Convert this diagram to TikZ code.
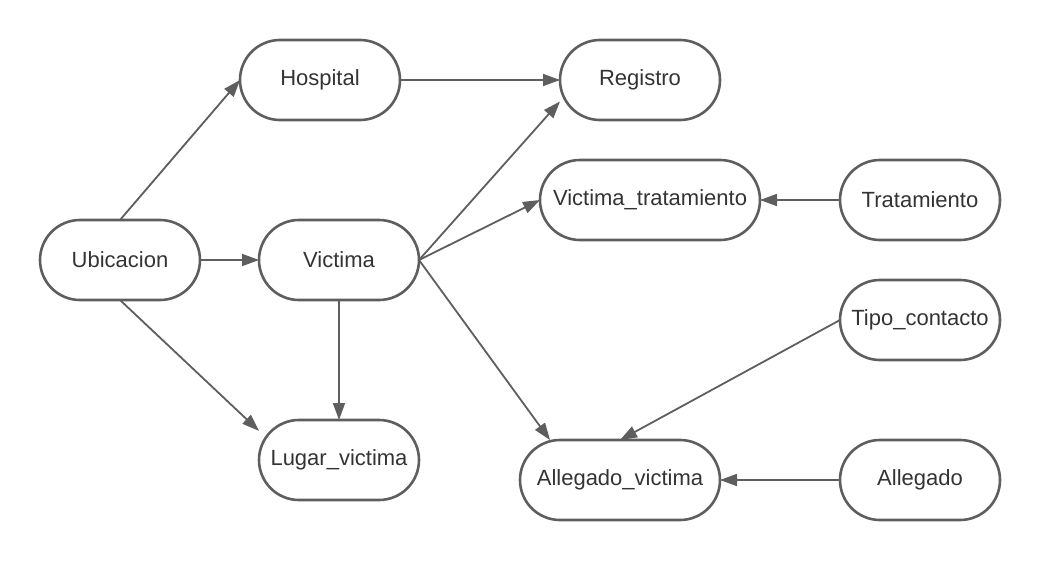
\documentclass[tikz,border=0pt]{standalone}
\usepackage{fontspec}
\setmainfont{Liberation Sans}
\usetikzlibrary{arrows.meta, positioning}
\definecolor{edgegray}{HTML}{5E5E5E}
\definecolor{textgray}{HTML}{333333}

\begin{document}
\begin{tikzpicture}[
      table/.style={draw=edgegray, line width=2.6pt, rounded corners=40pt,
                    minimum width=160pt, minimum height=80pt, outer sep=0pt,
                    inner xsep=10pt, align=center, text=textgray,
                    font=\fontsize{22}{26}\selectfont},
      arr/.style={-{Triangle[length=17pt, width=12pt]}, line width=1.8pt, edgegray},
    ]
    % frame of the picture
    \useasboundingbox (-120pt,260pt) rectangle (920pt,-300pt);

    % Left column
    \node[table] (ubic) at (0,0) {Ubicacion};
    \node[table, right=59pt of ubic] (vict) {Victima};
    \node[table, above right=100pt and 40pt of ubic] (hosp) {Hospital};
    \node[table, below=120pt of vict] (lugar) {Lugar\_victima};

    % Right side
    \node[table, right=160pt of hosp] (reg) {Registro};
    \node[table, below right=40pt and 120pt of reg] (trat) {Tratamiento};
    \node[table, minimum width=220pt, left=80pt of trat] (vtrat) {Victima\_tratamiento};
    \node[table, below=40pt of trat] (tipo) {Tipo\_contacto};
    \node[table, below=80pt of tipo] (alleg) {Allegado};
    \node[table, minimum width=200pt, left=120pt of alleg] (allv) {Allegado\_victima};

    % Arrows
    \draw[arr] (ubic.north) -- (hosp.west);
    \draw[arr] (ubic) -- (vict);
    \draw[arr] (ubic.south) -- (lugar.160);
    \draw[arr] (vict) -- (lugar);
    \draw[arr] (hosp) -- (reg);
    \draw[arr] (vict.east) -- (reg.195);
    \draw[arr] (vict.east) -- (vtrat.west);
    \draw[arr] (trat) -- (vtrat);
    \draw[arr] (vict.east) -- ([xshift=-70pt]allv.north);
    \draw[arr] (tipo.west) -- (allv.north);
    \draw[arr] (alleg) -- (allv);
  \end{tikzpicture}
\end{document}
